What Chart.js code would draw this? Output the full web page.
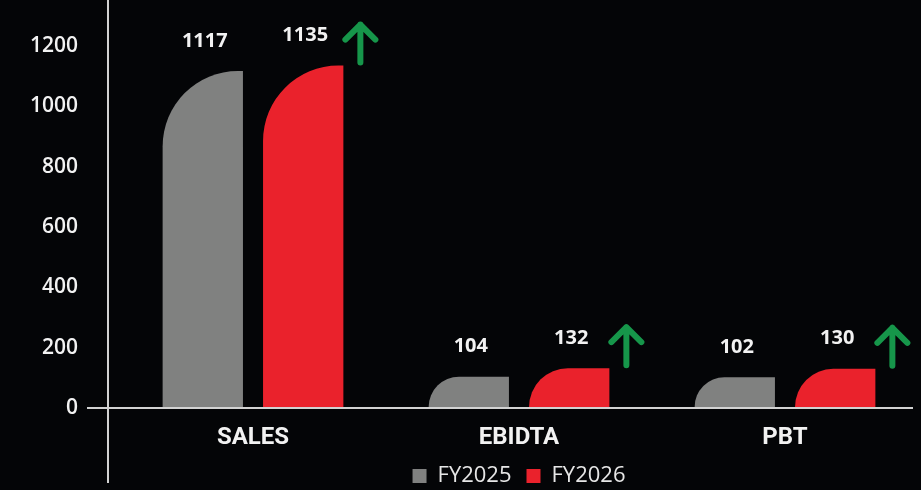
<!DOCTYPE html>
<html>
<head>
<meta charset="utf-8">
<script src="https://cdn.jsdelivr.net/npm/chart.js@4.4.1/dist/chart.umd.min.js"></script>
<style>
  html, body { margin: 0; padding: 0; background: #040507; }
  #wrap { width: 921px; height: 490px; }
</style>
</head>
<body>
<div id="wrap"><canvas id="myChart"></canvas></div>
<script>
const categories = ["SALES", "EBIDTA", "PBT"];
const seriesNames = ["FY2025", "FY2026"];
const fy2025 = [1117, 104, 102];
const fy2026 = [1135, 132, 130];
const yTicks = [0, 200, 400, 600, 800, 1000, 1200];

const GRAY = "#808180";
const RED = "#ea222c";
const GREEN = "#16964a";
const NUMFONT = "'Open Sans', sans-serif";

// bars with one big rounded top-left corner, value labels and green arrows
const roundedBars = {
    id: "roundedBars",
    beforeDatasetsDraw(chart) {
        const ctx = chart.ctx;
        const y = chart.scales.y;
        const zero = y.getPixelForValue(0);
        ctx.save();
        ctx.strokeStyle = "#d2d2d2";
        ctx.lineWidth = 2;
        ctx.beginPath();
        ctx.moveTo(chart.chartArea.left - 12, 0);
        ctx.lineTo(chart.chartArea.left - 12, 483);
        ctx.moveTo(chart.chartArea.left - 33, zero);
        ctx.lineTo(chart.chartArea.right - 5, zero);
        ctx.stroke();
        ctx.restore();
    },
    beforeDatasetDraw() {
        return false;
    },
    afterDatasetsDraw(chart) {
        const ctx = chart.ctx;
        ctx.save();
        chart.data.datasets.forEach((ds, i) => {
            const meta = chart.getDatasetMeta(i);
            meta.data.forEach((bar, j) => {
                const left = bar.x - bar.width / 2;
                const right = bar.x + bar.width / 2;
                const top = bar.y;
                const base = bar.base - 1;
                const r = Math.min(bar.width - 5, base - top);
                ctx.fillStyle = ds.backgroundColor;
                ctx.beginPath();
                ctx.moveTo(left, base);
                ctx.lineTo(left, top + r);
                ctx.arc(left + r, top + r, r, Math.PI, 1.5 * Math.PI);
                ctx.lineTo(right, top);
                ctx.lineTo(right, base);
                ctx.closePath();
                ctx.fill();

                ctx.fillStyle = "#f2f2f2";
                ctx.font = "bold 20px " + NUMFONT;
                ctx.textAlign = "center";
                ctx.textBaseline = "middle";
                ctx.fillText(ds.data[j], bar.x + 2, top - 30);

                if (i === 1) {
                    const ax = right + 17;
                    const tip = top - 41;
                    ctx.strokeStyle = GREEN;
                    ctx.lineWidth = 6;
                    ctx.lineCap = "round";
                    ctx.lineJoin = "round";
                    ctx.beginPath();
                    ctx.moveTo(ax, top - 3);
                    ctx.lineTo(ax, tip);
                    ctx.moveTo(ax - 15, tip + 15);
                    ctx.lineTo(ax, tip);
                    ctx.lineTo(ax + 15, tip + 15);
                    ctx.stroke();
                }
            });
        });
        ctx.restore();
    }
};

new Chart("myChart", {
    type: "bar",
    data: {
        labels: categories,
        datasets: [
            { label: seriesNames[0], data: fy2025, backgroundColor: GRAY, borderWidth: 0,
              categoryPercentage: 0.755, barPercentage: 0.8 },
            { label: seriesNames[1], data: fy2026, backgroundColor: RED, borderWidth: 0,
              categoryPercentage: 0.755, barPercentage: 0.8 }
        ]
    },
    options: {
        responsive: true,
        maintainAspectRatio: false,
        animation: false,
        layout: { padding: { top: 46, right: 3, left: 0, bottom: -7 } },
        plugins: {
            tooltip: { enabled: false },
            legend: {
                position: "bottom",
                fullSize: false,
                labels: {
                    color: "#e6e6e6",
                    boxWidth: 14,
                    boxHeight: 14,
                    padding: 15,
                    font: { family: NUMFONT, size: 22 }
                }
            }
        },
        scales: {
            x: {
                afterFit: (s) => { s.height = 42; },
                grid: { display: false, drawTicks: false },
                border: { display: false },
                ticks: { color: "#f2f2f2", padding: 18, font: { family: "Roboto, sans-serif", size: 24, weight: "bold", lineHeight: 1 } }
            },
            y: {
                min: 0,
                max: 1200,
                afterFit: (s) => { s.width = 120; s.paddingTop = 0; s.paddingBottom = 0; },
                afterBuildTicks: (s) => { s.ticks = yTicks.map(v => ({ value: v })); },
                grid: { display: false, drawTicks: false },
                border: { display: false },
                ticks: {
                    color: "#f2f2f2",
                    padding: 42,
                    font: { family: NUMFONT, size: 21, weight: "600" },
                    callback: (v) => String(v)
                }
            }
        }
    },
    plugins: [roundedBars]
});
</script>
</body>
</html>
